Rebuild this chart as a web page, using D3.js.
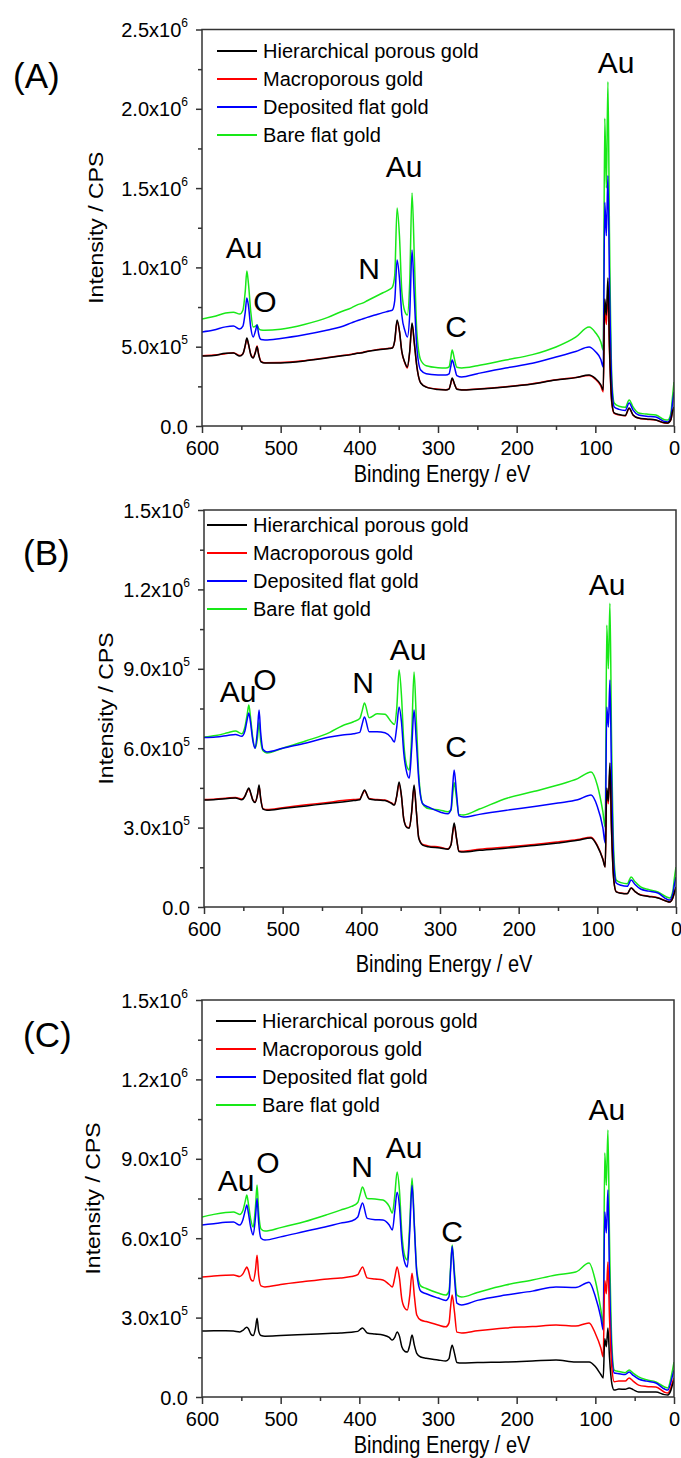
<!DOCTYPE html>
<html><head><meta charset="utf-8">
<script src="https://cdn.jsdelivr.net/npm/d3@7"></script>
<style>body{margin:0;background:#fff}svg{display:block}text{font-family:"Liberation Sans",Arial,sans-serif;fill:#000}</style>
</head><body><svg id="c" width="681" height="1458"></svg>
<script>
// Binding energy grid (eV) shared by every spectrum
const energy = [600,585,570,560,552,548,545,543,541,538,535,532,530,528,525,520,500,470,440,424,410,402,399,396,390,380,370,362,358,355,352,349,346,342,339,336,333,330,327,322,315,300,290,286,284,282,279,276,270,250,214,180,150,125,108,100,93,90,88,86,84,82,79,76,70,62,57,52,45,35,23,12,8,4,2,0];

const seriesNames = ["Hierarchical porous gold","Macroporous gold","Deposited flat gold","Bare flat gold"];

// Intensities in units of 10^3 CPS
// Panel A
const hierA = [441,445,458,460,441,455,510,555,520,450,429,465,500,450,405,397,398,410,430,441,450,458,460,462,470,478,484,488,492,540,668,600,470,400,372,470,649,520,380,271,245,230,227,232,265,303,265,232,227,232,246,265,290,305,321,300,260,227,800,700,933,500,150,82,72,66,113,70,50,44,38,20,19,40,90,120];
const macroA = [443,447,456,462,444,456,505,548,515,452,432,470,505,455,408,399,400,412,432,443,452,460,461,464,471,480,486,490,493,535,660,595,468,395,365,465,640,515,378,272,247,232,229,234,262,298,262,234,229,234,248,267,292,306,318,295,252,215,760,640,860,470,140,80,70,64,110,68,49,43,37,19,18,38,85,115];
const depA = [593,605,625,630,612,630,720,807,760,620,561,600,637,580,545,542,552,575,605,624,650,665,670,675,685,700,715,725,731,790,1047,930,700,600,561,700,1110,800,500,353,330,322,321,328,370,416,370,318,309,330,366,395,435,470,498,470,420,372,1410,1200,1580,900,250,120,105,98,145,100,69,62,57,28,25,60,140,214];
const bareA = [675,690,712,718,706,730,850,977,900,720,625,630,637,615,605,603,610,640,685,719,745,765,770,775,790,815,840,860,876,950,1375,1200,850,720,700,900,1469,1050,600,416,380,368,366,372,420,479,420,370,366,380,416,450,498,560,624,590,530,479,1940,1500,2170,1200,300,145,125,118,164,120,82,75,69,40,38,80,180,277];

// Panel B
const hierB = [404,406,410,412,405,418,440,450,435,404,395,425,461,410,370,366,372,382,392,397,402,405,425,442,408,404,402,392,385,420,472,420,330,300,298,360,461,360,260,234,228,223,218,235,280,317,260,210,208,214,223,232,242,252,261,230,180,151,450,400,544,300,100,57,52,50,72,58,45,40,34,22,19,35,55,76];
const macroB = [406,408,412,414,408,419,438,446,432,406,397,424,455,412,372,368,375,386,396,402,406,408,424,438,410,406,404,394,387,418,465,418,332,302,300,358,455,358,262,236,231,226,220,236,276,310,258,212,211,218,227,236,246,255,264,233,182,152,440,390,520,290,98,58,53,51,72,58,46,41,35,22,19,34,54,74];
const depB = [640,642,648,652,645,665,710,733,700,630,600,670,744,660,595,586,600,620,642,650,655,660,690,718,662,662,658,640,623,680,756,700,580,505,487,600,744,620,480,390,378,359,352,370,450,518,430,345,340,350,366,380,393,405,423,380,300,242,756,680,858,500,160,91,82,78,102,85,68,60,53,30,26,50,85,113];
const bareB = [642,648,658,665,655,680,730,763,720,640,600,640,700,630,590,582,600,628,660,685,700,712,740,771,715,730,728,700,690,750,895,800,620,530,518,650,888,700,500,390,372,366,360,365,420,470,410,350,348,370,412,437,461,485,510,460,360,302,1065,900,1148,650,200,102,92,88,113,95,76,66,57,38,34,60,110,151];

// Panel C
const hierC = [249,250,250,249,246,252,260,264,258,238,232,260,298,250,232,230,232,236,240,242,245,248,255,261,242,238,234,225,215,225,246,230,190,172,170,195,234,195,165,151,146,140,136,145,175,196,165,130,128,130,132,136,140,132,132,115,85,72,220,190,261,150,50,26,30,29,34,28,19,19,19,9,8,25,45,64];
const macroC = [453,457,460,461,455,465,482,491,478,445,438,480,536,460,420,416,425,436,446,450,455,462,478,491,450,446,442,425,416,450,491,450,370,335,329,380,468,380,310,291,285,272,265,280,340,385,320,245,242,250,261,266,272,268,280,240,185,151,440,390,510,300,110,58,60,60,72,60,45,40,38,18,15,35,55,72];
const depC = [650,655,660,661,650,670,705,725,695,640,612,680,750,660,600,593,605,625,645,657,665,680,710,733,675,670,669,650,631,700,774,720,580,505,491,620,800,640,470,400,390,374,365,380,480,570,450,355,348,365,385,400,416,414,434,380,300,253,700,620,782,450,160,91,88,85,94,82,68,60,53,30,26,55,80,102];
const bareC = [680,690,697,699,690,705,740,763,730,670,642,720,801,700,635,627,640,662,690,706,720,735,765,793,750,748,744,720,695,760,850,780,620,530,518,650,827,650,480,420,410,393,385,400,490,574,470,385,378,395,423,442,461,472,506,440,330,272,922,800,1009,600,200,102,96,92,102,90,76,65,57,38,34,70,100,132];

// Axis ticks and labels
const xTicks = [600,500,400,300,200,100,0];
const xMinorTicks = [550,450,350,250,150,50];
const yTicksA = [0,500,1000,1500,2000,2500];
const yLabelsA = ["0.0","5.0x10^5","1.0x10^6","1.5x10^6","2.0x10^6","2.5x10^6"];
const yTicksBC = [0,300,600,900,1200,1500];
const yLabelsBC = ["0.0","3.0x10^5","6.0x10^5","9.0x10^5","1.2x10^6","1.5x10^6"];

// Peak annotations: label, binding energy, intensity (10^3 CPS)
const peakTexts = ["Au","O","N","Au","C","Au"];
const peakEA = [546.6,520,387.7,343.2,277.1,73.7];
const peakIA = [1059,719,927,1570,561,2226];
const peakEB = [556.8,522.5,397.9,340.7,279.7,87.7];
const peakIB = [774,820,808,933,567,1179];
const peakEC = [556.8,516.1,396.6,343.2,282.2,85.2];
const peakIC = [778,846,831,903,586,1047];

const colors = ["#000000","#ff0000","#0000ff","#18e818"];

const panels = [
  {tag:"(A)", tagX:13, tagY:88, left:202, right:674, top:29.5, bottom:426, ymax:2500,
   yTicks:yTicksA, yLabels:yLabelsA, series:[hierA,macroA,depA,bareA],
   pE:peakEA, pI:peakIA, legX:217, legY:51, xTitleDy:56, yTitleX:103},
  {tag:"(B)", tagX:23, tagY:565, left:204, right:676, top:510, bottom:907, ymax:1500,
   yTicks:yTicksBC, yLabels:yLabelsBC, series:[hierB,macroB,depB,bareB],
   pE:peakEB, pI:peakIB, legX:207, legY:525, xTitleDy:65, yTitleX:113},
  {tag:"(C)", tagX:23, tagY:1047, left:202, right:674, top:1000, bottom:1397, ymax:1500,
   yTicks:yTicksBC, yLabels:yLabelsBC, series:[hierC,macroC,depC,bareC],
   pE:peakEC, pI:peakIC, legX:216, legY:1021, xTitleDy:56, yTitleX:100}
];

const svg = d3.select("#c");
svg.append("rect").attr("width",681).attr("height",1458).attr("fill","#fff");

panels.forEach(p => {
  const g = svg.append("g");
  const x = d3.scaleLinear().domain([600,0]).range([p.left,p.right]);
  const y = d3.scaleLinear().domain([0,p.ymax]).range([p.bottom,p.top]);

  const cid = "clip" + p.tag.replace(/\W/g,"");
  svg.append("clipPath").attr("id",cid).append("rect")
    .attr("x",p.left).attr("y",p.top).attr("width",p.right-p.left).attr("height",p.bottom-p.top);

  // spectra: bare, deposited, macro, hierarchical (black on top)
  const line = d3.line().x((d,i)=>x(energy[i])).y(d=>y(d)).curve(d3.curveMonotoneX);
  [3,2,1,0].forEach(k => {
    g.append("path").datum(p.series[k])
      .attr("clip-path",`url(#${cid})`)
      .attr("d",line).attr("fill","none").attr("stroke",colors[k])
      .attr("stroke-width",1.5).attr("stroke-linejoin","round");
  });

  // frame
  g.append("rect").attr("x",p.left).attr("y",p.top).attr("width",p.right-p.left).attr("height",p.bottom-p.top)
    .attr("fill","none").attr("stroke","#333").attr("stroke-width",1.5);

  // x axis
  const xa = g.append("g").attr("transform",`translate(0,${p.bottom})`)
    .call(d3.axisBottom(x).tickValues(xTicks).tickSize(7).tickFormat(d3.format("d")));
  xa.select(".domain").remove();
  xa.selectAll("line").attr("stroke","#333").attr("stroke-width",1.5);
  xa.selectAll("text").attr("y",15).attr("dy","0.71em").style("font-size","20px").attr("fill","#000");
  const xm = g.append("g").attr("transform",`translate(0,${p.bottom})`)
    .call(d3.axisBottom(x).tickValues(xMinorTicks).tickSize(4).tickFormat(""));
  xm.select(".domain").remove();
  xm.selectAll("line").attr("stroke","#333").attr("stroke-width",1.5);

  // y axis
  const ya = g.append("g").attr("transform",`translate(${p.left},0)`)
    .call(d3.axisLeft(y).tickValues(p.yTicks).tickSize(6).tickFormat(""));
  ya.select(".domain").remove();
  ya.selectAll("line").attr("stroke","#333").attr("stroke-width",1.5);
  ya.selectAll(".tick").each(function(d,i){
    const lab = p.yLabels[i].split("^");
    const t = d3.select(this).append("text").attr("x",-14).attr("dy","0.35em")
      .attr("text-anchor","end").style("font-size","20px").attr("fill","#000");
    t.append("tspan").text(lab[0]);
    if (lab[1]) t.append("tspan").attr("dy",-10).style("font-size","12px").text(lab[1]);
  });
  const yMinor = p.yTicks.slice(0,-1).map((v,i)=>(v+p.yTicks[i+1])/2);
  const ym = g.append("g").attr("transform",`translate(${p.left},0)`)
    .call(d3.axisLeft(y).tickValues(yMinor).tickSize(4).tickFormat(""));
  ym.select(".domain").remove();
  ym.selectAll("line").attr("stroke","#333").attr("stroke-width",1.5);

  // axis titles
  g.append("text").attr("transform",`translate(${(p.left+p.right)/2+4},${p.bottom+p.xTitleDy}) scale(1,1.15)`)
    .attr("text-anchor","middle").style("font-size","20px").text("Binding Energy / eV");
  g.append("text").attr("transform",`translate(${p.yTitleX},${(p.top+p.bottom)/2}) rotate(-90) scale(1.15,1)`)
    .attr("text-anchor","middle").style("font-size","20px").text("Intensity / CPS");

  // panel tag
  g.append("text").attr("x",p.tagX).attr("y",p.tagY).style("font-size","35px").text(p.tag);

  // legend
  seriesNames.forEach((n,k) => {
    const ly = p.legY + k*28;
    g.append("line").attr("x1",p.legX).attr("x2",p.legX+40).attr("y1",ly).attr("y2",ly)
      .attr("stroke",colors[k]).attr("stroke-width",2);
    g.append("text").attr("x",p.legX+46).attr("y",ly+7).style("font-size","20px").text(n);
  });

  // peak labels
  peakTexts.forEach((t,i) => {
    g.append("text").attr("x",x(p.pE[i])).attr("y",y(p.pI[i]))
      .attr("text-anchor","middle").style("font-size","30px").text(t);
  });
});
</script></body></html>
